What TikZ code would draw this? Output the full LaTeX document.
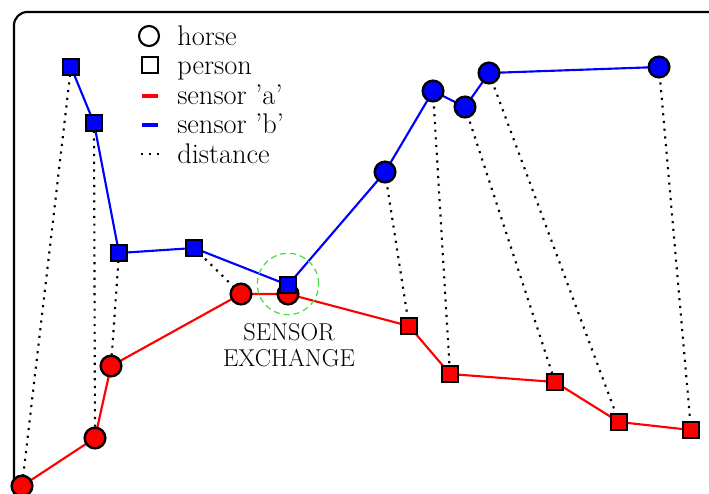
\documentclass[tikz,border=0pt]{standalone}
\usetikzlibrary{backgrounds}
\definecolor{hlgreen}{RGB}{60,225,60}
\tikzset{
  horse/.style={circle, draw=black, line width=1.8pt, minimum size=15.5pt, inner sep=0pt},
  person/.style={rectangle, draw=black, line width=1.8pt, minimum size=12.3pt, inner sep=0pt},
  trackA/.style={draw=red, line width=1.6pt},
  trackB/.style={draw=blue, line width=1.6pt},
  gap/.style={draw=black, line width=1.6pt, dash pattern=on 1.6pt off 4.2pt},
  legendtext/.style={anchor=base west, inner sep=0pt, font=\fontsize{21.3}{24}\selectfont},
}
\begin{document}
\begin{tikzpicture}[x=0.75pt, y=-0.75pt]
\useasboundingbox (0,0) rectangle (709,493);
\clip (0,0) rectangle (709,493);

% frame
\draw[line width=1.6pt, rounded corners=10] (14,12) rectangle (740,530);

% sensor 'a' track
\node[horse, fill=red]  (a1)  at (22,486) {};
\node[horse, fill=red]  (a2)  at (95,438) {};
\node[horse, fill=red]  (a3)  at (111,366) {};
\node[horse, fill=red]  (a4)  at (241,294) {};
\node[horse, fill=red]  (a5)  at (288,294) {};
\node[person, fill=red] (a6)  at (409,326) {};
\node[person, fill=red] (a7)  at (450,374) {};
\node[person, fill=red] (a8)  at (555,382) {};
\node[person, fill=red] (a9)  at (619,422) {};
\node[person, fill=red] (a10) at (691,430) {};

% sensor 'b' track
\node[person, fill=blue] (b1)  at (71,67) {};
\node[person, fill=blue] (b2)  at (94,123) {};
\node[person, fill=blue] (b3)  at (119,253) {};
\node[person, fill=blue] (b4)  at (194,248) {};
\node[person, fill=blue] (b5)  at (288,285) {};
\node[horse, fill=blue]  (b6)  at (385,172) {};
\node[horse, fill=blue]  (b7)  at (433,91) {};
\node[horse, fill=blue]  (b8)  at (465,107) {};
\node[horse, fill=blue]  (b9)  at (489,73) {};
\node[horse, fill=blue]  (b10) at (659,67) {};

\begin{scope}[on background layer]
  % distances between paired readings
  \foreach \i/\j in {b1/a1, b2/a2, b3/a3, b4/a4, b6/a6, b7/a7, b8/a8, b9/a9, b10/a10}
    \draw[gap] (\i.center) -- (\j.center);
  % tracks
  \draw[trackA] (a1.center) -- (a2.center) -- (a3.center) -- (a4.center) -- (a5.center)
    -- (a6.center) -- (a7.center) -- (a8.center) -- (a9.center) -- (a10.center);
  \draw[trackB] (b1.center) -- (b2.center) -- (b3.center) -- (b4.center) -- (b5.center)
    -- (b6.center) -- (b7.center) -- (b8.center) -- (b9.center) -- (b10.center);
\end{scope}

% exchange highlight
\node[circle, draw=hlgreen, line width=0.9pt, dash pattern=on 4.5pt off 3pt,
      minimum size=46pt, inner sep=0pt] (swap) at (288,284) {};
\node[align=center, font=\fontsize{18.3}{19.5}\selectfont, inner sep=0pt, anchor=north]
  (swaplabel) at (289,323) {SENSOR\\EXCHANGE};

% legend
\node[circle, draw=black, line width=1.6pt, minimum size=15pt, inner sep=0pt] (lh) at (149,36) {};
\node[rectangle, draw=black, line width=1.6pt, minimum size=12pt, inner sep=0pt] (lp) at (150,65) {};
\coordinate (la0) at (142,96);  \coordinate (la1) at (158,96);
\coordinate (lb0) at (142,125); \coordinate (lb1) at (158,125);
\coordinate (ld0) at (141,154); \coordinate (ld1) at (160,154);
\draw[red, line width=3pt] (la0) -- (la1);
\draw[blue, line width=3pt] (lb0) -- (lb1);
\draw[black, line width=1.6pt, dash pattern=on 1.6pt off 4.4pt] (ld0) -- (ld1);
\node[legendtext] (th) at (177,45)    {horse};
\node[legendtext] (tp) at (177,74.5)  {person};
\node[legendtext] (ta) at (177,104)   {sensor 'a'};
\node[legendtext] (tb) at (177,133.5) {sensor 'b'};
\node[legendtext] (td) at (177,163)   {distance};
\end{tikzpicture}
\end{document}
